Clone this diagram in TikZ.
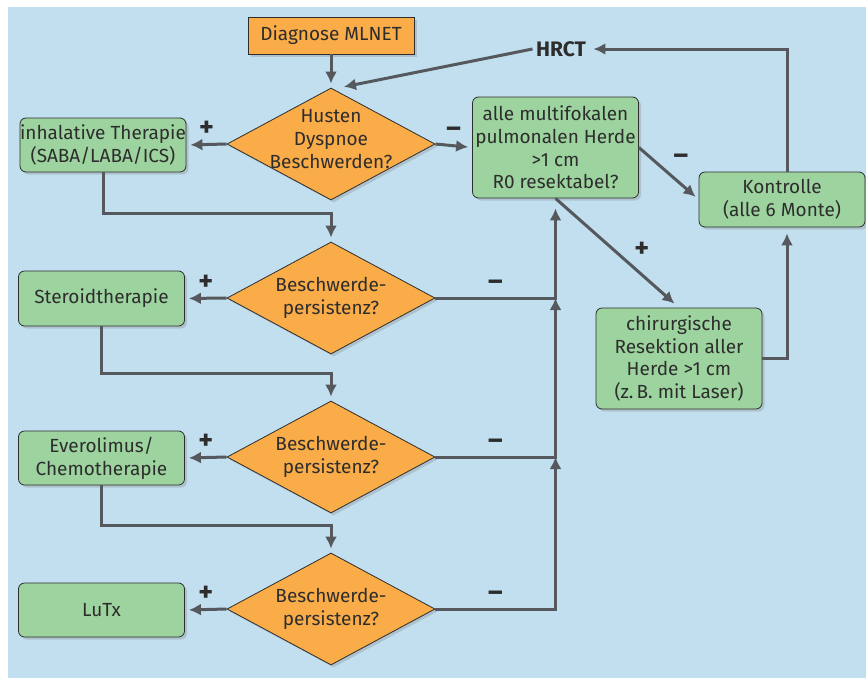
\documentclass[tikz,border=0pt]{standalone}
\usepackage{fontspec}
\setmainfont{Fira Sans}
\usetikzlibrary{shapes.geometric,arrows.meta,shadows}
\definecolor{bgblue}{RGB}{194,223,239}
\definecolor{boxgreen}{RGB}{157,211,158}
\definecolor{boxorange}{RGB}{249,172,72}
\definecolor{linegray}{RGB}{85,89,93}
\definecolor{textgray}{RGB}{45,45,45}
\tikzset{>={Latex[length=12pt,width=12pt]}}
\tikzset{
  every node/.style={text=textgray, font=\fontsize{19}{22.7}\selectfont},
  box/.style={
    draw=textgray, line width=0.8pt, fill=boxgreen,
    rounded corners=6pt, minimum width=166pt, inner sep=0pt, align=center,
    drop shadow={shadow xshift=2.5pt, shadow yshift=-2.5pt, opacity=0.3}
  },
  start/.style={
    box, fill=boxorange, rounded corners=0pt, minimum height=37pt
  },
  decision/.style={
    diamond, draw=textgray, line width=0.8pt, fill=boxorange,
    minimum width=208pt, minimum height=112pt, inner sep=0pt,
    drop shadow={shadow xshift=2.5pt, shadow yshift=-2.5pt, opacity=0.3}
  },
  qtext/.style={align=center, inner sep=0pt},
  conn/.style={draw=linegray, line width=3pt, shorten >=4pt},
  sign/.style={font=\fontsize{28}{28}\selectfont\bfseries, text height=16pt, text depth=0pt}
}

\begin{document}
\begin{tikzpicture}[x=1pt, y=-1pt]
  \useasboundingbox (0,0) rectangle (866,678);
  \fill[bgblue] (8,7) rectangle (866,678);
  % start and questions
  \node[start] (diag) at (331,35.5) {Diagnose MLNET};
  \node[decision] (q1) at (331,144) {};
  \node[decision] (q2) at (331,298) {};
  \node[decision] (q3) at (331,457) {};
  \node[decision] (q4) at (331,609) {};
  \node[qtext] (q1t) at ([yshift=5pt]q1.center) {Husten\\Dyspnoe\\Beschwerden?};
  \node[qtext] (q2t) at (q2) {Beschwerde-\\persistenz?};
  \node[qtext] (q3t) at (q3) {Beschwerde-\\persistenz?};
  \node[qtext] (q4t) at (q4) {Beschwerde-\\persistenz?};
  % therapies
  \node[box, minimum height=54pt] (inh) at (103,145) {inhalative Therapie\\(SABA/LABA/ICS)};
  \node[box, minimum height=55pt] (ster) at (101.5,298.5) {Steroidtherapie};
  \node[box, minimum height=54pt] (evero) at (101.5,458) {Everolimus/\\Chemotherapie};
  \node[box, minimum height=54pt] (lutx) at (101.5,610) {LuTx};
  % right branch
  \node[box, minimum height=101pt] (multi) at (555.5,147.5) {alle multifokalen\\pulmonalen Herde\\>1 cm\\R0 resektabel?};
  \node[box, minimum height=55pt] (kontr) at (782,199.5) {Kontrolle\\(alle 6 Monte)};
  \node[box, minimum height=101pt] (chir) at (679,358.5) {chirurgische\\Resektion aller\\Herde >1 cm\\(z.\,B. mit Laser)};
  \node[font=\fontsize{21}{22}\selectfont\bfseries] (hrct) at (561,49) {HRCT};
  \coordinate (j2) at (multi.south |- q2.east);
  \coordinate (j3) at (multi.south |- q3.east);

  \draw[conn,->] (diag) -- (q1);
  \draw[conn,->] (hrct.west) -- ([xshift=9pt]q1.north);
  \draw[conn,->] (q1.west) -- node[sign, above=3pt] {+} (inh.east);
  \draw[conn,->] (q1.east) -- node[sign, above=3pt] {–} (multi.west);
  \draw[conn,->] (multi.east) -- node[sign, midway, above right, yshift=4pt] {–} (kontr.west);
  \draw[conn,->,shorten >=6pt] (multi.south) -- node[sign, pos=0.6, above right, yshift=2pt] {+} (chir.north);
  \draw[conn,->,shorten >=6pt] (chir.east) -| ([xshift=5pt]kontr.south);
  \draw[conn,->] ([xshift=5pt]kontr.north) |- (hrct.east);

  \draw[conn,->,shorten >=10pt] (q2.east) -| node[sign, pos=0.25, above=3pt] {–} (multi.south);
  \draw[conn,->,shorten >=0pt] (q3.east) -| node[sign, pos=0.25, above=3pt] {–} (j2);
  \draw[conn,->,shorten >=0pt] (q4.east) -| node[sign, pos=0.25, above=3pt] {–} (j3);

  \draw[conn,->] (q2.west) -- node[sign, above=3pt] {+} (ster.east);
  \draw[conn,->] (q3.west) -- node[sign, above=3pt] {+} (evero.east);
  \draw[conn,->] (q4.west) -- node[sign, above=3pt] {+} (lutx.east);
  \draw[conn,->] (inh.south) -- ++(0,41) -| (q2.north);
  \draw[conn,->] (ster.south) -- ++(0,47) -| (q3.north);
  \draw[conn,->] (evero.south) -- ++(0,40) -| (q4.north);
\end{tikzpicture}
\end{document}
